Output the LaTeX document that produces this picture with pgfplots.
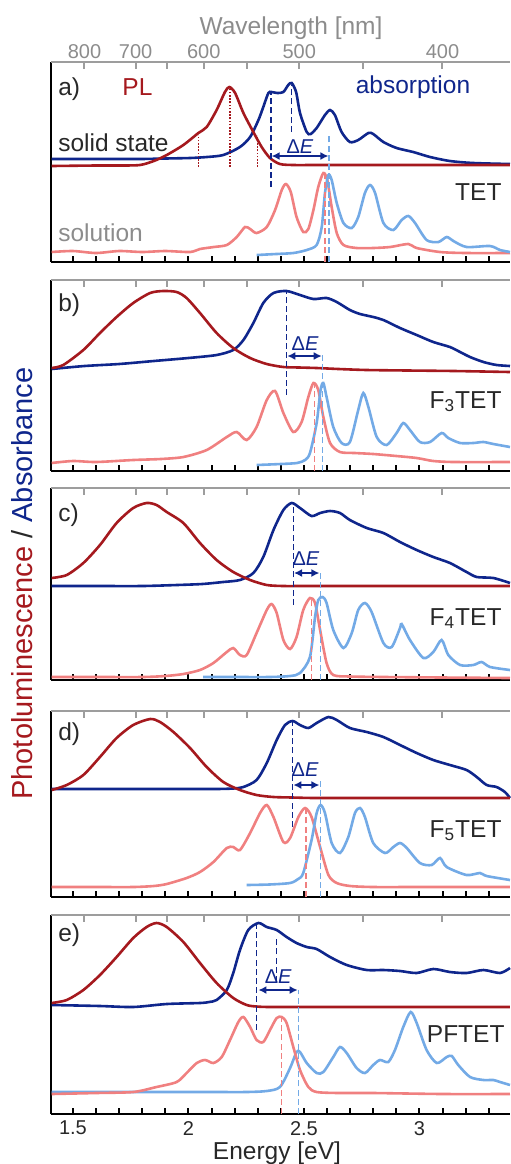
\documentclass[border=0pt]{standalone}
\usepackage{fontspec}
\setmainfont{Liberation Sans}
\usepackage{pgfplots}
\pgfplotsset{compat=1.18}
\usetikzlibrary{arrows.meta}
\definecolor{plred}{RGB}{165,25,30}
\definecolor{absblue}{RGB}{15,38,140}
\definecolor{solred}{RGB}{240,128,128}
\definecolor{solblue}{RGB}{115,170,230}
\definecolor{txtdark}{RGB}{40,40,40}
\definecolor{wlgray}{RGB}{140,140,140}

\newcommand{\lab}{\fontsize{12.25}{14}\selectfont}
\newcommand{\tck}{\fontsize{10}{12}\selectfont}

\pgfplotsset{
  panel/.style={
    scale only axis, width=229.5pt, anchor=north west,
    xmin=1.405, xmax=3.392, ymin=0,
    axis x line*=bottom, axis y line*=left,
    axis line style={-, black, line width=1.2pt},
    ytick=\empty,
    xtick={1.5,2,2.5,3}, xticklabels={},
    minor xtick={1.6,1.7,1.8,1.9,2.1,2.2,2.3,2.4,2.6,2.7,2.8,2.9,3.1,3.2,3.3},
    tick align=inside, major tick length=3pt, minor tick length=3pt,
    tick style={black, line width=1pt},
    xticklabel style={font=\tck, text=txtdark},
    clip=false,
  },
  wl/.style={
    scale only axis, width=229.5pt, anchor=north west,
    xmin=1.405, xmax=3.392, ymin=0, ymax=1,
    axis x line=top, axis y line=none,
    axis line style={-, wlgray!85, line width=1pt},
    xtick={1.5498,1.7712,1.9075,2.0664,2.2543,2.4797,2.7552,3.0996},
    xticklabels={},
    tick align=inside, major tick length=3.5pt,
    tick style={wlgray!85, line width=1pt},
    xticklabel style={font=\tck, text=wlgray, inner sep=1.5pt},
  },
  solid/.style={line width=1.3pt, smooth, tension=0.45},
  vline/.style={line width=0.7pt, dash pattern=on 3pt off 1.6pt},
  dotl/.style={plred, line width=0.7pt, dash pattern=on 0.8pt off 0.8pt},
  dearrow/.style={absblue, line width=1pt, {Latex[length=4pt,width=4pt]}-{Latex[length=4pt,width=4pt]}},
}

\begin{document}
\begin{tikzpicture}
\useasboundingbox (0,0) rectangle (255pt,-582pt);

% ---------------- a) TET
\begin{axis}[panel, at={(25.5pt,-31pt)}, height=100pt, ymax=200]
\addplot[solid, absblue] coordinates {
 (1.408,103)(1.600,103)(1.790,103)(1.900,103.5)(2.007,104)(2.080,105)(2.151,107)(2.223,115)
 (2.267,125)(2.303,142)(2.324,155)(2.346,169)(2.360,170)(2.385,169)(2.411,170)(2.432,177)
 (2.447,179)(2.466,170)(2.483,149)(2.512,130)(2.529,128)(2.555,134)(2.591,147)(2.613,152)
 (2.634,147)(2.663,130)(2.699,120)(2.735,122)(2.779,129)(2.800,128)(2.844,120)(2.901,114)
 (2.973,110)(3.046,105)(3.132,101)(3.233,99)(3.392,98)};
\addplot[solid, plred] coordinates {
 (1.408,96)(1.600,96.5)(1.700,96.5)(1.790,97)(1.850,101)(1.906,107)(1.978,117)(2.043,129)
 (2.079,135)(2.122,152)(2.158,170)(2.177,175)(2.202,169)(2.238,149)(2.281,130)(2.317,115)
 (2.353,104)(2.396,98)(2.454,97)(2.550,97)(2.700,97)(2.900,97)(3.100,97)(3.392,97)};
\addplot[solid, solred] coordinates {
 (1.408,10)(1.500,11)(1.600,9)(1.700,11)(1.800,10)(1.900,11)(2.007,10)(2.050,13)(2.110,15)
 (2.166,17)(2.209,25)(2.245,35)(2.267,33)(2.295,29)(2.339,35)(2.375,52)(2.404,72)(2.422,78)
 (2.443,70)(2.468,45)(2.497,30)(2.519,33)(2.541,52)(2.562,75)(2.584,89)(2.601,82)(2.620,55)
 (2.642,29)(2.671,17)(2.728,14)(2.800,14)(2.873,15)(2.952,18)(2.988,14)(3.089,10)(3.200,9)(3.392,9)};
\addplot[solid, solblue] coordinates {
 (2.295,7)(2.380,8)(2.454,9)(2.512,12)(2.555,17)(2.577,35)(2.591,69)(2.606,87)(2.620,82)
 (2.642,59)(2.671,39)(2.707,34)(2.735,45)(2.764,69)(2.786,77)(2.808,69)(2.844,39)(2.887,32)
 (2.923,42)(2.952,46)(2.981,39)(3.031,22)(3.082,20)(3.118,25)(3.147,21)(3.204,15)(3.305,16)
 (3.349,12)(3.392,10)};
\addplot[dotl] coordinates {(2.043,95)(2.043,127)};
\addplot[dotl] coordinates {(2.180,95)(2.180,173)};
\addplot[dotl] coordinates {(2.298,95)(2.298,127)};
\addplot[vline, absblue] coordinates {(2.357,75)(2.357,169)};
\addplot[vline, absblue] coordinates {(2.447,130)(2.447,177)};
\addplot[vline, solblue] coordinates {(2.608,0)(2.608,127)};
\addplot[vline, solred] coordinates {(2.591,0)(2.591,87)};
\addplot[dearrow] coordinates {(2.360,106)(2.606,106)};
\node[anchor=base, font=\tck, text=absblue, inner sep=0pt] at (axis cs:2.483,109) {Δ\textit{E}};
\node[anchor=base west, font=\lab, text=txtdark, inner sep=0pt] at (axis cs:1.435,167) {a)};
\node[anchor=base, font=\lab, text=plred, inner sep=0pt] at (axis cs:1.779,167) {PL};
\node[anchor=base, font=\lab, text=absblue, inner sep=0pt] at (axis cs:2.972,169) {absorption};
\node[anchor=base west, font=\lab, text=txtdark, inner sep=0pt] at (axis cs:1.435,111) {solid state};
\node[anchor=base east, font=\lab, text=txtdark, inner sep=0pt] at (axis cs:3.357,62) {TET};
\node[anchor=base west, font=\lab, text=wlgray, inner sep=0pt] at (axis cs:1.435,21) {solution};
\end{axis}
\begin{axis}[wl, at={(25.5pt,-31pt)}, height=100pt,
  xticklabels={800,700,,600,,500,,400}]
\end{axis}

% ---------------- b) F3TET
\begin{axis}[panel, at={(25.5pt,-140pt)}, height=95.5pt, ymax=191]
\addplot[solid, absblue] coordinates {
 (1.408,102)(1.550,105)(1.700,107)(1.850,110)(2.000,113)(2.122,116)(2.194,121)(2.238,131)
 (2.281,148)(2.324,168)(2.368,178)(2.425,180)(2.483,176)(2.541,172)(2.598,173)(2.642,169)
 (2.699,161)(2.743,157)(2.800,154)(2.844,151)(2.916,143)(2.988,136)(3.060,129)(3.132,124)
 (3.176,119)(3.219,114)(3.277,109)(3.334,106)(3.392,105)};
\addplot[solid, plred] coordinates {
 (1.408,103)(1.458,106)(1.545,121)(1.617,138)(1.689,154)(1.761,168)(1.834,178)(1.891,180)
 (1.949,179)(1.992,173)(2.050,158)(2.122,138)(2.194,123)(2.267,113)(2.339,107)(2.411,104)
 (2.480,103.5)(2.555,103)(2.650,102)(2.772,101)(2.950,100.5)(3.150,100)(3.392,99)};
\addplot[solid, solred] coordinates {
 (1.408,8)(1.500,10)(1.600,9)(1.761,11)(1.880,12)(1.978,14)(2.079,21)(2.166,34)(2.209,39)
 (2.252,31)(2.295,44)(2.339,71)(2.375,80)(2.411,58)(2.454,39)(2.490,49)(2.519,74)(2.541,88)
 (2.562,81)(2.584,54)(2.613,28)(2.656,19)(2.720,18)(2.800,17)(2.900,15)(2.988,13)(3.060,10)
 (3.150,9)(3.392,9)};
\addplot[solid, solblue] coordinates {
 (2.295,6)(2.400,7)(2.470,8)(2.505,11)(2.526,18)(2.555,48)(2.572,81)(2.584,88)(2.598,74)
 (2.627,44)(2.663,28)(2.699,29)(2.735,61)(2.757,78)(2.779,64)(2.815,34)(2.858,26)(2.901,38)
 (2.930,48)(2.959,41)(3.002,29)(3.046,29)(3.096,38)(3.125,33)(3.176,28)(3.233,28)(3.277,29)
 (3.320,27)(3.392,24)};
\addplot[vline, absblue] coordinates {(2.425,76)(2.425,180)};
\addplot[vline, solblue] coordinates {(2.581,0)(2.581,118)};
\addplot[vline, solred] coordinates {(2.545,0)(2.545,88)};
\addplot[dearrow] coordinates {(2.428,115)(2.577,115)};
\node[anchor=base, font=\tck, text=absblue, inner sep=0pt] at (axis cs:2.505,121) {Δ\textit{E}};
\node[anchor=base west, font=\lab, text=txtdark, inner sep=0pt] at (axis cs:1.435,160) {b)};
\node[anchor=base east, font=\lab, text=txtdark, inner sep=0pt] at (axis cs:3.357,63) {F\textsubscript{3}TET};
\end{axis}
\begin{axis}[wl, at={(25.5pt,-140pt)}, height=95.5pt]
\end{axis}

% ---------------- c) F4TET
\begin{axis}[panel, at={(25.5pt,-244pt)}, height=96pt, ymax=192]
\addplot[solid, absblue] coordinates {
 (1.408,94)(1.600,94)(1.800,94)(1.950,95)(2.060,96)(2.150,98)(2.223,100)(2.281,107)
 (2.324,123)(2.368,150)(2.411,170)(2.447,177)(2.483,172)(2.533,164)(2.570,167)(2.613,169)
 (2.656,167)(2.699,160)(2.772,152)(2.844,147)(2.916,138)(2.988,130)(3.060,123)(3.132,117)
 (3.204,108)(3.248,103)(3.320,102)(3.392,97)};
\addplot[solid, plred] coordinates {
 (1.408,102)(1.473,105)(1.545,117)(1.617,135)(1.689,157)(1.761,172)(1.819,177)(1.862,175)
 (1.906,168)(1.978,157)(2.050,137)(2.122,120)(2.194,108)(2.267,100)(2.339,95)(2.411,94)
 (2.500,94)(2.700,94)(3.000,94)(3.392,94)};
\addplot[solid, solred] coordinates {
 (1.408,3)(1.600,3)(1.800,3)(1.900,4)(1.978,6)(2.050,10)(2.108,17)(2.166,28)(2.194,32)
 (2.223,25)(2.252,25)(2.295,47)(2.339,70)(2.360,76)(2.382,67)(2.411,40)(2.440,31)(2.468,43)
 (2.497,70)(2.526,82)(2.548,77)(2.570,50)(2.598,17)(2.627,5)(2.700,3.5)(2.850,3)(3.100,2.5)(3.392,2)};
\addplot[solid, solblue] coordinates {
 (2.064,3)(2.200,3)(2.350,3)(2.440,4)(2.483,7)(2.526,23)(2.548,63)(2.562,80)(2.581,83)
 (2.598,77)(2.627,50)(2.671,32)(2.707,47)(2.735,70)(2.764,77)(2.793,68)(2.844,37)(2.880,33)
 (2.916,52)(2.923,56)(2.959,40)(3.017,22)(3.060,28)(3.096,40)(3.125,25)(3.176,15)(3.233,15)
 (3.269,18)(3.306,13)(3.392,10)};
\addplot[vline, absblue] coordinates {(2.454,75)(2.454,177)};
\addplot[vline, solblue] coordinates {(2.572,0)(2.572,110)};
\addplot[vline, solred] coordinates {(2.533,0)(2.533,82)};
\addplot[dearrow] coordinates {(2.457,107)(2.567,107)};
\node[anchor=base, font=\tck, text=absblue, inner sep=0pt] at (axis cs:2.509,115) {Δ\textit{E}};
\node[anchor=base west, font=\lab, text=txtdark, inner sep=0pt] at (axis cs:1.435,159) {c)};
\node[anchor=base east, font=\lab, text=txtdark, inner sep=0pt] at (axis cs:3.357,55) {F\textsubscript{4}TET};
\end{axis}
\begin{axis}[wl, at={(25.5pt,-244pt)}, height=96pt]
\end{axis}

% ---------------- d) F5TET
\begin{axis}[panel, at={(25.5pt,-355.5pt)}, height=93pt, ymax=186]
\addplot[solid, absblue] coordinates {
 (1.408,108)(1.700,108)(2.000,108)(2.120,108)(2.194,108.5)(2.238,110)(2.295,117)(2.339,134)
 (2.382,157)(2.418,172)(2.451,176)(2.483,172)(2.519,169)(2.555,174)(2.606,180)(2.642,177)
 (2.699,169)(2.772,165)(2.844,160)(2.916,152)(2.988,144)(3.060,137)(3.132,132)(3.204,127)
 (3.248,120)(3.291,112)(3.334,110)(3.370,105)(3.392,99)};
\addplot[solid, plred] coordinates {
 (1.408,107)(1.473,112)(1.545,122)(1.617,140)(1.689,159)(1.761,172)(1.834,178)(1.877,175)
 (1.935,165)(2.007,149)(2.079,130)(2.151,115)(2.223,107)(2.295,102)(2.368,100)(2.450,99.5)
 (2.550,99)(2.800,99)(3.100,99)(3.392,99)};
\addplot[solid, solred] coordinates {
 (1.408,10)(1.600,10)(1.761,10)(1.850,11)(1.906,13)(1.992,19)(2.050,25)(2.108,35)(2.166,49)
 (2.194,50)(2.223,47)(2.267,64)(2.310,84)(2.339,92)(2.368,80)(2.411,55)(2.440,59)(2.476,80)
 (2.505,89)(2.533,80)(2.570,50)(2.606,22)(2.642,14)(2.700,11)(2.800,10)(3.000,10)(3.392,10)};
\addplot[solid, solblue] coordinates {
 (2.252,12)(2.350,12.5)(2.440,14)(2.475,18)(2.497,24)(2.533,57)(2.555,84)(2.572,92)(2.591,84)
 (2.620,54)(2.656,44)(2.692,60)(2.721,84)(2.743,89)(2.764,80)(2.800,54)(2.851,44)(2.887,50)
 (2.916,54)(2.945,49)(3.002,34)(3.053,32)(3.089,39)(3.118,30)(3.204,22)(3.262,24)(3.291,21)(3.392,17)};
\addplot[vline, absblue] coordinates {(2.451,70)(2.451,175)};
\addplot[vline, solblue] coordinates {(2.572,0)(2.572,117)};
\addplot[vline, solred] coordinates {(2.509,0)(2.509,89)};
\addplot[dearrow] coordinates {(2.454,112)(2.567,112)};
\node[anchor=base, font=\tck, text=absblue, inner sep=0pt] at (axis cs:2.505,121) {Δ\textit{E}};
\node[anchor=base west, font=\lab, text=txtdark, inner sep=0pt] at (axis cs:1.435,157) {d)};
\node[anchor=base east, font=\lab, text=txtdark, inner sep=0pt] at (axis cs:3.357,60) {F\textsubscript{5}TET};
\end{axis}
\begin{axis}[wl, at={(25.5pt,-355.5pt)}, height=93pt]
\end{axis}

% ---------------- e) PFTET
\begin{axis}[panel, at={(25.5pt,-457.5pt)}, height=99.5pt, ymax=199,
  xticklabels={1.5,2,2.5,3}]
\addplot[solid, absblue] coordinates {
 (1.408,109)(1.617,108)(1.761,107)(1.906,110)(2.050,111)(2.090,112)(2.122,114)(2.166,124)
 (2.194,141)(2.223,164)(2.259,184)(2.303,191)(2.339,187)(2.382,184)(2.425,177)(2.468,171)
 (2.512,167)(2.555,165)(2.613,157)(2.685,149)(2.772,144)(2.844,144)(2.916,143)(2.988,141)
 (3.060,145)(3.132,142)(3.204,141)(3.277,144)(3.349,141)(3.392,146)};
\addplot[solid, plred] coordinates {
 (1.408,111)(1.473,114)(1.545,124)(1.617,139)(1.689,157)(1.761,176)(1.819,187)(1.862,191)
 (1.906,187)(1.978,172)(2.050,151)(2.122,131)(2.194,116)(2.252,109)(2.295,107.5)(2.350,107)
 (2.500,107)(2.800,107)(3.100,107)(3.392,107)};
\addplot[solid, solblue] coordinates {
 (1.408,22)(1.800,22)(2.100,22)(2.250,22)(2.339,23)(2.396,27)(2.440,46)(2.468,62)(2.483,62)
 (2.512,51)(2.555,41)(2.584,42)(2.627,57)(2.656,67)(2.685,61)(2.728,46)(2.764,41)(2.800,49)
 (2.829,54)(2.865,52)(2.894,64)(2.930,87)(2.962,102)(2.988,91)(3.031,64)(3.075,51)(3.118,57)
 (3.140,58)(3.168,49)(3.219,37)(3.277,34)(3.320,34)(3.349,32)(3.392,29)};
\addplot[solid, solred] coordinates {
 (1.408,20)(1.600,21)(1.761,22)(1.862,27)(1.949,32)(1.992,41)(2.036,51)(2.072,54)(2.108,51)
 (2.144,57)(2.180,74)(2.216,92)(2.238,97)(2.267,87)(2.295,74)(2.324,72)(2.353,84)(2.382,96)
 (2.404,97)(2.425,91)(2.454,67)(2.483,44)(2.519,27)(2.555,22)(2.650,21)(2.800,21)(3.100,20)(3.392,20)};
\addplot[vline, absblue] coordinates {(2.295,84)(2.295,189)};
\addplot[vline, absblue] coordinates {(2.382,132)(2.382,177)};
\addplot[vline, solblue] coordinates {(2.476,0)(2.476,124)};
\addplot[vline, solred] coordinates {(2.404,0)(2.404,97)};
\addplot[dearrow] coordinates {(2.303,124)(2.473,124)};
\node[anchor=base, font=\tck, text=absblue, inner sep=0pt] at (axis cs:2.389,131) {Δ\textit{E}};
\node[anchor=base west, font=\lab, text=txtdark, inner sep=0pt] at (axis cs:1.435,173) {e)};
\node[anchor=base east, font=\lab, text=txtdark, inner sep=0pt] at (axis cs:3.370,72) {PFTET};
\end{axis}
\begin{axis}[wl, at={(25.5pt,-457.5pt)}, height=99.5pt]
\end{axis}

% titles outside the panels
\node[anchor=base, font=\lab, text=wlgray, inner sep=0pt] at (145.5pt,-17pt) {Wavelength [nm]};
\node[anchor=base, font=\lab, text=txtdark, inner sep=0pt] at (138.5pt,-579.5pt) {Energy [eV]};
\node[rotate=90, anchor=west, font=\fontsize{14.5}{17}\selectfont, inner sep=0pt] at (11pt,-400pt)
  {\textcolor{plred}{Photoluminescence} \textcolor{txtdark}{/} \textcolor{absblue}{Absorbance}};
\end{tikzpicture}
\end{document}
